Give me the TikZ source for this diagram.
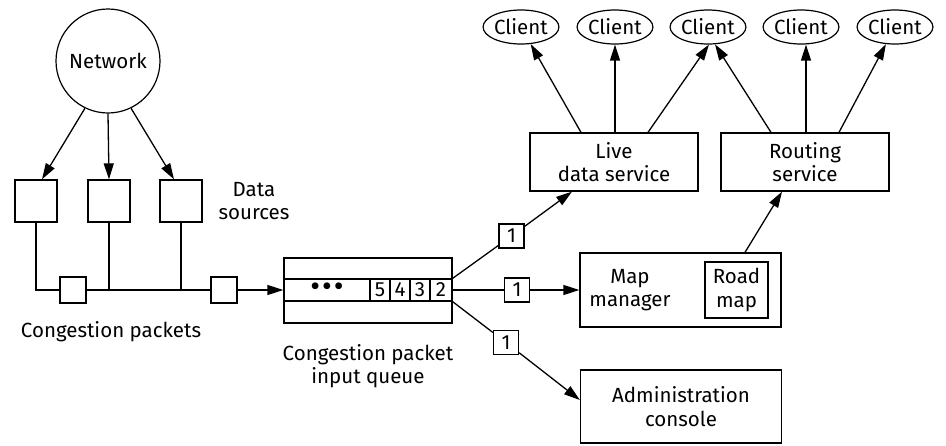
\documentclass[tikz,border=0pt]{standalone}
\usepackage{fontspec}
\setmainfont{Fira Sans}
\usetikzlibrary{arrows.meta,shapes.geometric,calc}

\tikzset{
  every node/.style={font=\fontsize{20.5}{23.5}\selectfont},
  pbox/.style={draw, line width=1.3pt, inner sep=0pt, rectangle},
  sq/.style={pbox, minimum width=42pt, minimum height=42pt},
  pkt/.style={pbox, minimum width=26pt, minimum height=26pt},
  onebox/.style={pbox, minimum width=25pt, minimum height=24pt},
  cell/.style={pbox, minimum height=22pt, minimum width=20pt},
  svc/.style={pbox, align=center, minimum width=168pt, minimum height=58pt},
  big/.style={pbox, align=center, minimum width=201pt, minimum height=74pt},
  client/.style={draw, ellipse, line width=1.2pt, inner sep=0pt,
                 minimum width=74pt, minimum height=34pt},
  lbl/.style={align=center, inner sep=0pt},
  wire/.style={line width=1.3pt},
  arr/.style={wire, -{Triangle[length=16pt,width=10pt]}},
}

\begin{document}
\begin{tikzpicture}[x=1pt,y=-1pt]
\useasboundingbox (0,0) rectangle (946,445);

% network and its data sources
\node[draw, circle, line width=1.2pt, minimum size=104pt, inner sep=0pt] (net) at (108,61) {Network};
\node[sq] (src1) at (36,201) {};
\node[sq] (src2) at (109,201) {};
\node[sq] (src3) at (181,201) {};
\node[lbl] (srclbl) at (254,201) {Data\\sources};

\draw[arr] (net.-116) -- ([xshift=6pt]src1.north);
\draw[arr] (net.south) -- (src2.north);
\draw[arr] (net.-64) -- ([xshift=-7pt]src3.north);

% packet bus
\node[pkt] (pk1) at (73,290) {};
\node[pkt] (pk2) at (224,290) {};
\node[lbl] (pklbl) at (111,332) {Congestion packets};

% input queue
\node[pbox, minimum width=168pt, minimum height=65pt] (queue) at (368,290.5) {};
\node[pbox, minimum width=86pt, minimum height=22pt] (dots) at (327,290)
  {\fontsize{30}{30}\selectfont\textbullet\hspace{2pt}\textbullet\hspace{2pt}\textbullet};
\node[cell] (q5) at (380,290) {5};
\node[cell] (q4) at (400,290) {4};
\node[cell] (q3) at (420,290) {3};
\node[cell, minimum width=22pt] (q2) at (441,290) {2};
\node[lbl] (qlbl) at (368,366) {Congestion packet\\input queue};

\coordinate (bus1) at (src1 |- pk1);
\draw[wire] (src1.south) -- (bus1) -- (pk1.west);
\draw[wire] (pk1.east) -- (pk2.west);
\draw[wire] (src2.south) -- (src2 |- pk1);
\draw[wire] (src3.south) -- (src3 |- pk1);
\draw[arr] (pk2.east) -- (queue.west |- pk2);

% services
\node[svc] (live) at (614,162) {Live\\data service};
\node[svc] (routing) at (805,162) {Routing\\service};
\node[big] (mapmgr) at (680.5,290) {};
\node[lbl] (maplbl) at (630,290) {Map\\manager};
\node[pbox, align=center, minimum width=63pt, minimum height=56pt] (road) at (736.5,290) {Road\\map};
\node[big, minimum height=73pt] (admin) at (681,406.5) {Administration\\console};

% queue outputs
\node[onebox] (b1) at (511.5,236) {1};
\node[onebox] (b2) at (517,290) {1};
\node[onebox] (b3) at (506,342.5) {1};

\draw[wire] (q2.north east) -- (b1);
\draw[arr] (b1) -- ([xshift=-42pt]live.south);
\draw[wire] (q2.east) -- (b2.west);
\draw[arr] (b2.east) -- (mapmgr.west);
\draw[wire] (q2.south east) -- (b3);
\draw[arr] (b3) -- ([yshift=6.5pt]admin.west);
\draw[arr] ([xshift=64.5pt]mapmgr.north) -- ([xshift=-23pt]routing.south);

% clients
\node[client] (c1) at (521,27) {Client};
\node[client] (c2) at (615,27) {Client};
\node[client] (c3) at (708,27) {Client};
\node[client] (c4) at (801,27) {Client};
\node[client] (c5) at (895,27) {Client};

\draw[arr] ([xshift=-33pt]live.north) -- (c1);
\draw[arr] ([xshift=1pt]live.north) -- ([xshift=1pt]live.north |- c2.south);
\draw[arr] ([xshift=34pt]live.north) -- (c3.-87);
\draw[arr] ([xshift=-34pt]routing.north) -- (c3.-68);
\draw[arr] ([xshift=1pt]routing.north) -- ([xshift=1pt]routing.north |- c4.south);
\draw[arr] ([xshift=34pt]routing.north) -- (c5);
\end{tikzpicture}
\end{document}
